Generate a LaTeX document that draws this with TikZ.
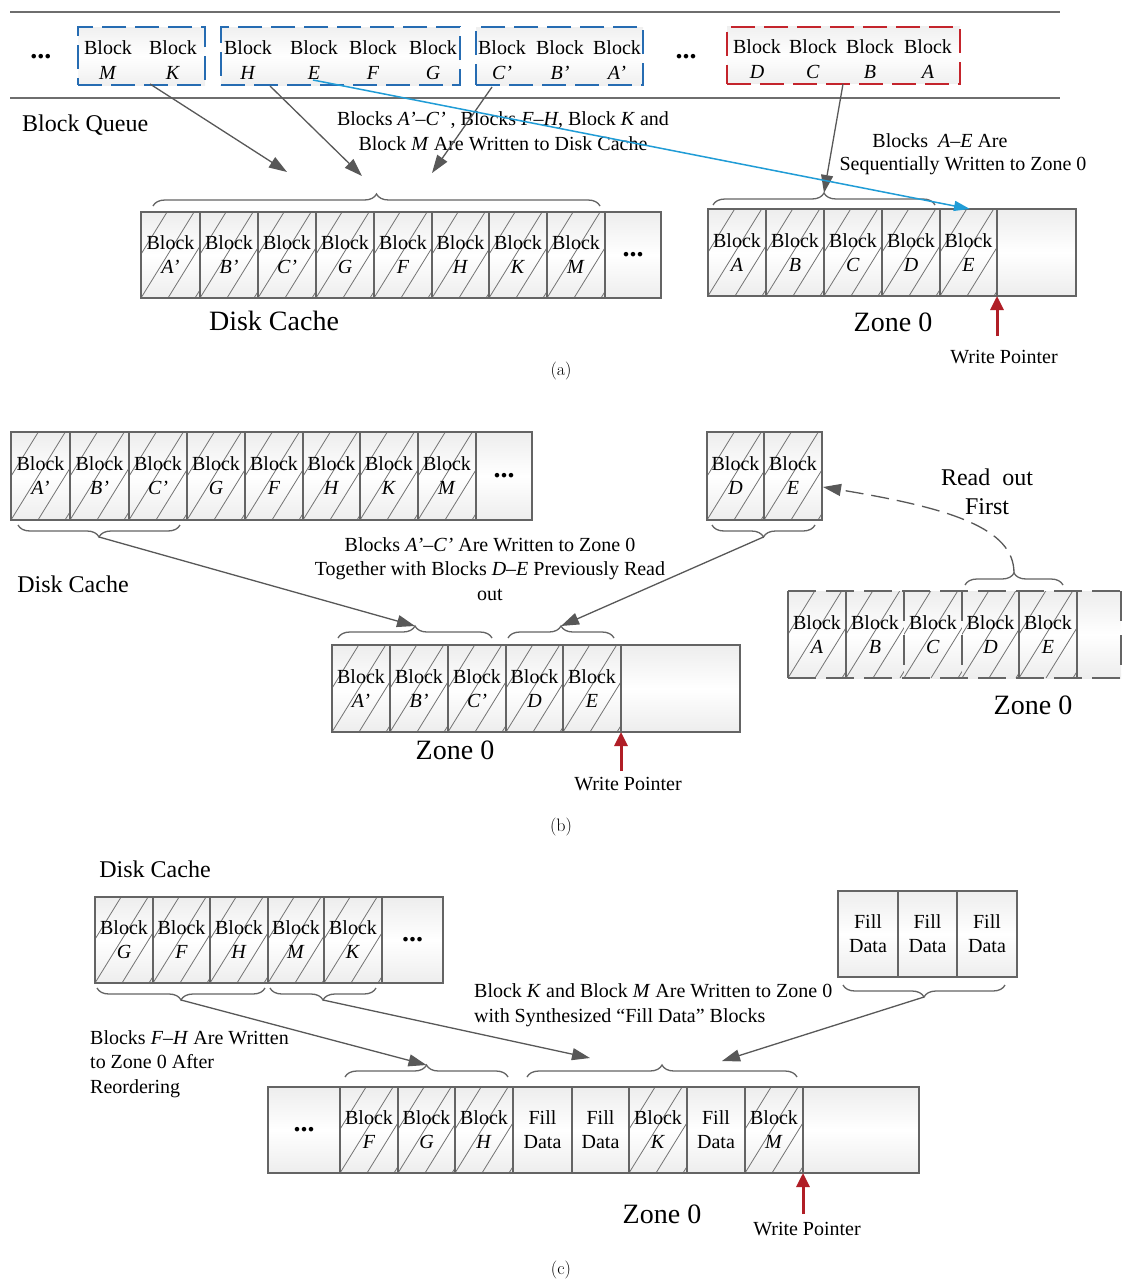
\documentclass[tikz,border=0pt]{standalone}
\usepackage{fontspec}
\newfontfamily\tnr{Liberation Serif}
\usetikzlibrary{arrows.meta,decorations.pathreplacing}
\definecolor{bord}{RGB}{100,100,100}
\definecolor{hatchc}{RGB}{115,115,115}
\definecolor{arr}{RGB}{88,88,88}
\definecolor{qblue}{RGB}{38,108,178}
\definecolor{qred}{RGB}{196,36,44}
\definecolor{lblue}{RGB}{32,156,214}
\definecolor{wpred}{RGB}{176,30,38}
\definecolor{hl}{RGB}{110,110,110}
\newcommand\setfs[2]{\fontsize{#1}{#2}\selectfont}
\newcommand\bl[1]{Block\\\textit{#1}}
\newcommand\fdata{Fill\\Data}
\newcommand\dotsx{{\bfseries\setfs{28}{28}...}}
\newcommand\mkh[5]{\node[cellbox,hatched,minimum width=#3pt,minimum height=#4pt] (#1) at (#2) {#5};}
\newcommand\mkp[5]{\node[cellbox,minimum width=#3pt,minimum height=#4pt] (#1) at (#2) {#5};}
\begin{document}
\begin{tikzpicture}[x=1pt,y=-1pt,
  cellbox/.style={draw=bord, line width=1.6pt, top color=gray!14, bottom color=gray!14, middle color=white,
    inner sep=0pt, outer sep=0pt, anchor=north west, align=center, font=\tnr\setfs{20}{24}},
  hatched/.style={path picture={\foreach \k in {-3,...,2}{\draw[hatchc,line width=0.8pt] ([xshift=\k*27pt]path picture bounding box.south west) -- ++(58pt,94pt);}}},
  qbox/.style={dash pattern=on 24pt off 9pt, line width=2pt, top color=gray!12, bottom color=gray!12, middle color=white, inner sep=0pt, minimum height=58pt},
  lab/.style={font=\tnr\setfs{20}{24.5}, align=center, inner sep=0pt},
  midl/.style={font=\tnr\setfs{24}{29}, align=center, inner sep=0pt},
  bigl/.style={font=\tnr\setfs{28}{30}, inner sep=0pt},
  dots/.style={font=\tnr\bfseries\setfs{28}{28}, inner sep=0pt},
  captxt/.style={font=\rmfamily\setfs{18}{18}, inner sep=0pt},
  hline/.style={draw=hl, line width=2pt},
  garrow/.style={draw=arr, line width=1.3pt, -{Triangle[length=18pt,width=12pt]}},
  darrow/.style={draw=arr, line width=1.3pt, dash pattern=on 18pt off 8pt, -{Triangle[length=18pt,width=12pt]}},
  barrow/.style={draw=lblue, line width=1.5pt, -{Triangle[length=16pt,width=10pt]}},
  wp/.style={draw=wpred, line width=3pt, -{Triangle[length=14pt,width=13pt]}},
  brc/.style={draw=bord, line width=1.3pt, decorate, decoration={brace, amplitude=12pt}}
]
\fill[white] (0,0) rectangle (1123,1282);
\useasboundingbox (0,0) rectangle (1123,1282);

%%%%%%%%%%%%%%%% (a)
\draw[hline] (10,12) -- (1060,12);
\draw[hline] (10,98) -- (1060,98);
\node[dots] (qd1) at (41,57) {...};
\node[qbox,draw=qblue,minimum width=127pt] (q1) at (141.5,56) {};
\node[qbox,draw=qblue,minimum width=239pt] (q2) at (340.5,56) {};
\node[qbox,draw=qblue,minimum width=167pt] (q3) at (559.5,56) {};
\node[dots] (qd2) at (686,57) {...};
\node[qbox,draw=qred,minimum width=233pt,minimum height=57pt] (q4) at (843.5,55) {};
\node[lab] (qM) at (108,60) {\bl{M}};
\node[lab] (qK) at (173,60) {\bl{K}};
\node[lab] (qH) at (248,60) {\bl{H}};
\node[lab] (qE) at (314,60) {\bl{E}};
\node[lab] (qF) at (373,60) {\bl{F}};
\node[lab] (qG) at (433,60) {\bl{G}};
\node[lab] (qC) at (502,60) {\bl{C’}};
\node[lab] (qB) at (560,60) {\bl{B’}};
\node[lab] (qA) at (617,60) {\bl{A’}};
\node[lab] (rD) at (757,59) {\bl{D}};
\node[lab] (rC) at (813,59) {\bl{C}};
\node[lab] (rB) at (870,59) {\bl{B}};
\node[lab] (rA) at (928,59) {\bl{A}};
\node[midl,anchor=west] (bq) at (22,125) {Block Queue};
\node[lab] (t1) at (503,131) {Blocks~\textit{A’}–\textit{C’}~, Blocks \textit{F}–\textit{H}, Block \textit{K} and\\Block \textit{M} Are Written to Disk Cache};
\node[lab] (t2a) at (940,141) {Blocks~ \textit{A}–\textit{E} Are};
\node[lab] (t2b) at (963,166) {Sequentially Written to Zone 0};

\mkh{dca1}{141,212}{59}{86}{\bl{A’}}
\mkh{dca2}{200,212}{58}{86}{\bl{B’}}
\mkh{dca3}{258,212}{58}{86}{\bl{C’}}
\mkh{dca4}{316,212}{58}{86}{\bl{G}}
\mkh{dca5}{374,212}{58}{86}{\bl{F}}
\mkh{dca6}{432,212}{57}{86}{\bl{H}}
\mkh{dca7}{489,212}{58}{86}{\bl{K}}
\mkh{dca8}{547,212}{58}{86}{\bl{M}}
\mkp{dca9}{605,212}{56}{86}{\dotsx}
\node[bigl] (dcal) at (274,321) {Disk Cache};

\mkh{za1}{708,209}{58}{87}{\bl{A}}
\mkh{za2}{766,209}{58}{87}{\bl{B}}
\mkh{za3}{824,209}{58}{87}{\bl{C}}
\mkh{za4}{882,209}{58}{87}{\bl{D}}
\mkh{za5}{940,209}{57}{87}{\bl{E}}
\mkp{za6}{997,209}{79}{87}{}
\node[bigl] (zal) at (893,322) {Zone 0};
\node[lab] (wpal) at (1004,357) {Write Pointer};
\coordinate (wpa) at (997,336);
\draw[wp] (wpa) -- (za5.south east);

\draw[brc] (153,206) -- (600,206);
\coordinate (tdca) at (376.5,194);
\draw[brc] (713,205) -- (935,205);
\coordinate (tza) at (824,193);

\coordinate (s1) at (150,84);  \coordinate (e1) at (287,172);
\coordinate (s2) at (270,86);  \coordinate (e2) at (362,176);
\coordinate (s3) at (492,87);  \coordinate (e3) at (432,173);
\coordinate (s4) at (843,84);
\draw[garrow] (s1) -- (e1);
\draw[garrow] (s2) -- (e2);
\draw[garrow] (s3) -- (e3);
\draw[garrow] (s4) -- (tza);
\coordinate (bs) at (313,80); \coordinate (be) at (970,209);
\draw[barrow] (bs) -- (be);
\node[captxt] (capa) at (561,371) {(a)};

%%%%%%%%%%%%%%%% (b)
\mkh{dcb1}{11,432}{59}{88}{\bl{A’}}
\mkh{dcb2}{70,432}{59}{88}{\bl{B’}}
\mkh{dcb3}{129,432}{58}{88}{\bl{C’}}
\mkh{dcb4}{187,432}{58}{88}{\bl{G}}
\mkh{dcb5}{245,432}{58}{88}{\bl{F}}
\mkh{dcb6}{303,432}{57}{88}{\bl{H}}
\mkh{dcb7}{360,432}{58}{88}{\bl{K}}
\mkh{dcb8}{418,432}{58}{88}{\bl{M}}
\mkp{dcb9}{476,432}{56}{88}{\dotsx}
\node[midl] (dcbl) at (73,584) {Disk Cache};
\draw[brc] (180,525) -- (18,525);
\coordinate (tdcb) at (99,537);

\mkh{deb1}{707,432}{57}{88}{\bl{D}}
\mkh{deb2}{764,432}{58}{88}{\bl{E}}
\draw[brc] (815,525) -- (712,525);
\coordinate (tdeb) at (763.5,537);

\node[lab] (t3) at (490,569) {Blocks \textit{A’}–\textit{C’} Are Written to Zone 0\\Together with Blocks \textit{D}–\textit{E} Previously Read\\out};

\mkh{zb1}{332,645}{58}{87}{\bl{A’}}
\mkh{zb2}{390,645}{58}{87}{\bl{B’}}
\mkh{zb3}{448,645}{58}{87}{\bl{C’}}
\mkh{zb4}{506,645}{57}{87}{\bl{D}}
\mkh{zb5}{563,645}{58}{87}{\bl{E}}
\mkp{zb6}{621,645}{119}{87}{}
\draw[brc] (338,638) -- (492,638);
\coordinate (tzb1) at (415,626);
\draw[brc] (508,638) -- (614,638);
\coordinate (tzb2) at (561,626);
\node[bigl] (zbl) at (455,750) {Zone 0};
\node[lab] (wpbl) at (628,784) {Write Pointer};
\coordinate (wpb) at (621,771);
\draw[wp] (wpb) -- (zb5.south east);
\draw[garrow] (tdcb) -- (tzb1);
\draw[garrow] (tdeb) -- (tzb2);

% right zone 0 (dashed outline)
\node[cellbox,hatched,draw=none,minimum width=58pt,minimum height=87pt] (zr1) at (788,591) {\bl{A}};
\node[cellbox,hatched,draw=none,minimum width=58pt,minimum height=87pt] (zr2) at (846,591) {\bl{B}};
\node[cellbox,hatched,draw=none,minimum width=58pt,minimum height=87pt] (zr3) at (904,591) {\bl{C}};
\node[cellbox,hatched,draw=none,minimum width=57pt,minimum height=87pt] (zr4) at (962,591) {\bl{D}};
\node[cellbox,hatched,draw=none,minimum width=58pt,minimum height=87pt] (zr5) at (1019,591) {\bl{E}};
\node[cellbox,draw=none,minimum width=44pt,minimum height=87pt] (zr6) at (1077,591) {};
\draw[bord,line width=1.6pt,dash pattern=on 28pt off 10pt] (788,591) -- (1121,591);
\draw[bord,line width=1.6pt,dash pattern=on 28pt off 10pt] (788,678) -- (1121,678);
\draw[bord,line width=1.6pt,dash pattern=on 30pt off 14pt] (1121,591) -- (1121,678);
\draw[bord,line width=1.6pt] (788,591) -- (788,678);
\draw[bord,line width=1.6pt] (846,591) -- (846,678);
\draw[bord,line width=1.6pt,dash pattern=on 30pt off 14pt] (904,591) -- (904,678);
\draw[bord,line width=1.6pt,dash pattern=on 30pt off 14pt] (962,591) -- (962,678);
\draw[bord,line width=1.6pt] (1019,591) -- (1019,678);
\draw[bord,line width=1.6pt] (1077,591) -- (1077,678);
\node[bigl] (zrl) at (1033,705) {Zone 0};
\draw[brc] (965,585) -- (1063,585);
\coordinate (tzr) at (1014,573);
\coordinate (dtip) at (823,487);
\draw[darrow] (tzr) .. controls (1014,528) and (950,508) .. (dtip);
\node[midl] (rof) at (987,492) {Read~ out\\First};
\node[captxt] (capb) at (561,827) {(b)};

%%%%%%%%%%%%%%%% (c)
\node[midl] (dccl) at (155,869) {Disk Cache};
\mkh{dcc1}{95,897}{58}{86}{\bl{G}}
\mkh{dcc2}{153,897}{57}{86}{\bl{F}}
\mkh{dcc3}{210,897}{58}{86}{\bl{H}}
\mkh{dcc4}{268,897}{56}{86}{\bl{M}}
\mkh{dcc5}{324,897}{58}{86}{\bl{K}}
\mkp{dcc6}{382,897}{61}{86}{\dotsx}
\draw[brc] (265,988) -- (97,988);
\coordinate (tdcc1) at (181,1000);
\draw[brc] (376,988) -- (270,988);
\coordinate (tdcc2) at (323,1000);

\mkp{fb1}{838,891}{60}{86}{\fdata}
\mkp{fb2}{898,891}{59}{86}{\fdata}
\mkp{fb3}{957,891}{60}{86}{\fdata}
\draw[brc] (1005,985) -- (843,985);
\coordinate (tfb) at (924,997);

\node[lab,align=left,anchor=west] (t4) at (474,1005) {Block \textit{K} and Block \textit{M} Are Written to Zone 0\\with Synthesized “Fill Data” Blocks};
\node[lab,align=left,anchor=west] (t5) at (90,1064) {Blocks \textit{F}–\textit{H} Are Written\\to Zone 0 After\\Reordering};

\mkp{zc1}{268,1087}{72}{86}{\dotsx}
\mkh{zc2}{340,1087}{58}{86}{\bl{F}}
\mkh{zc3}{398,1087}{57}{86}{\bl{G}}
\mkh{zc4}{455,1087}{58}{86}{\bl{H}}
\mkp{zc5}{513,1087}{59}{86}{\fdata}
\mkp{zc6}{572,1087}{57}{86}{\fdata}
\mkh{zc7}{629,1087}{58}{86}{\bl{K}}
\mkp{zc8}{687,1087}{58}{86}{\fdata}
\mkh{zc9}{745,1087}{58}{86}{\bl{M}}
\mkp{zc10}{803,1087}{116}{86}{}
\draw[brc] (345,1077) -- (508,1077);
\coordinate (tzc1) at (426.5,1065);
\draw[brc] (527,1077) -- (797,1077);
\coordinate (ezc2) at (590,1058);
\coordinate (ezc3) at (722,1061);
\draw[garrow] (tdcc1) -- (tzc1);
\draw[garrow] (tdcc2) -- (ezc2);
\draw[garrow] (tfb) -- (ezc3);
\node[bigl] (zcl) at (662,1214) {Zone 0};
\node[lab] (wpcl) at (807,1229) {Write Pointer};
\coordinate (wpc) at (803,1214);
\draw[wp] (wpc) -- (zc9.south east);
\node[captxt] (capc) at (561,1270) {(c)};
\end{tikzpicture}
\end{document}
